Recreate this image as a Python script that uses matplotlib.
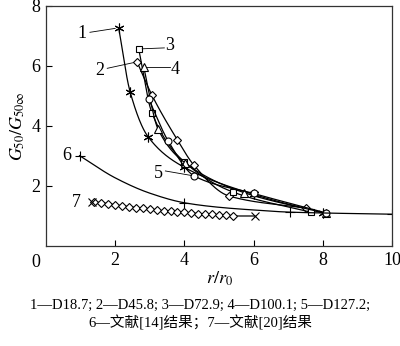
import numpy as np
import matplotlib
matplotlib.use('Agg')
import matplotlib.pyplot as plt

plt.rcParams['font.family'] = ['Liberation Serif', 'Noto Sans CJK SC']
plt.rcParams['mathtext.fontset'] = 'stix'

# measured points, r/r0 vs G50/G50inf
x1 = [2.1, 2.43, 2.95, 4.0, 6.0, 8.0]
y1 = [7.27, 5.14, 3.64, 2.62, 1.72, 1.1]
x2 = [2.63, 3.06, 3.8, 4.27, 5.28, 7.5]
y2 = [6.14, 5.03, 3.53, 2.7, 1.67, 1.26]
x3 = [2.68, 3.06, 4.0, 5.4, 7.67]
y3 = [6.56, 4.44, 2.8, 1.8, 1.12]
x4 = [2.82, 3.24, 4.03, 5.72, 8.1]
y4 = [5.98, 3.89, 2.76, 1.78, 1.09]
x5 = [2.97, 3.53, 4.29, 6.0, 8.1]
y5 = [4.89, 3.5, 2.33, 1.75, 1.1]

# ref [14] curve and its marked points
x6 = [0.97, 2.0, 3.0, 4.0, 5.0, 6.0, 7.0, 8.0, 10.0]
y6 = [3.01, 2.27, 1.76, 1.44, 1.29, 1.2, 1.13, 1.1, 1.06]
x6m = [0.97, 4.0, 7.05, 10.0]
y6m = [3.01, 1.44, 1.12, 1.06]

# ref [20]
x7 = [1.4, 1.6, 1.8, 2.0, 2.2, 2.4, 2.6, 2.8, 3.0, 3.2, 3.4, 3.6, 3.8, 4.0,
      4.2, 4.4, 4.6, 4.8, 5.0, 5.2, 5.4]
y7 = [1.47, 1.44, 1.41, 1.37, 1.34, 1.31, 1.28, 1.25, 1.22, 1.2, 1.17, 1.15,
      1.13, 1.12, 1.1, 1.08, 1.06, 1.05, 1.03, 1.02, 1.0]
x7x = [1.32, 6.03]
y7x = [1.46, 1.0]

caption1 = '1—D18.7; 2—D45.8; 3—D72.9; 4—D100.1; 5—D127.2;'
caption2 = '6—文献[14]结果；7—文献[20]结果'


def pchip_line(x, y, n=40):
    # shape-preserving cubic path through the points (drawing only)
    x = np.asarray(x, float)
    y = np.asarray(y, float)
    h = np.diff(x)
    d = np.diff(y) / h
    m = np.zeros_like(y)
    for k in range(1, len(x) - 1):
        if d[k - 1] * d[k] > 0:
            w1 = 2 * h[k] + h[k - 1]
            w2 = h[k] + 2 * h[k - 1]
            m[k] = (w1 + w2) / (w1 / d[k - 1] + w2 / d[k])
    m[0] = d[0]
    m[-1] = d[-1]
    xs, ys = [], []
    for k in range(len(h)):
        t = np.linspace(0, 1, n)
        h00 = 2 * t**3 - 3 * t**2 + 1
        h10 = t**3 - 2 * t**2 + t
        h01 = -2 * t**3 + 3 * t**2
        h11 = t**3 - t**2
        xs.append(x[k] + t * h[k])
        ys.append(h00 * y[k] + h10 * h[k] * m[k] + h01 * y[k + 1] + h11 * h[k] * m[k + 1])
    return np.concatenate(xs), np.concatenate(ys)


fig = plt.figure(figsize=(4, 3.46), dpi=100)
ax = fig.add_axes([0.115, 0.289, 0.865, 0.694])

lw = 0.9
mk = dict(color='k', mfc='white', mew=0.8, ls='none')
series = [(x1, y1, (6, 2, 0), 7), (x2, y2, 'D', 4.5), (x3, y3, 's', 5),
          (x4, y4, '^', 5.5), (x5, y5, 'o', 5)]
for xs, ys, m, ms in series:
    sx, sy = pchip_line(xs, ys)
    ax.plot(sx, sy, color='k', lw=lw)
    ax.plot(xs, ys, marker=m, ms=ms, **mk)

sx, sy = pchip_line(x6, y6)
ax.plot(sx, sy, color='k', lw=lw)
ax.plot(x6m, y6m, marker='+', ms=7, **mk)

ax.plot(x7 + [6.03], y7 + [1.0], color='k', lw=lw)
ax.plot(x7, y7, marker='D', ms=4, **mk)
ax.plot(x7x, y7x, marker='x', ms=6, **mk)

# numbered leaders
fs = 13
ax.text(1.03, 7.09, '1', fontsize=fs, ha='center', va='center')
ax.plot([1.27, 2.0], [7.12, 7.25], color='k', lw=0.6)
ax.text(1.54, 5.84, '2', fontsize=fs, ha='center', va='center')
ax.plot([1.77, 2.53], [5.92, 6.11], color='k', lw=0.6)
ax.text(3.57, 6.67, '3', fontsize=fs, ha='center', va='center')
ax.plot([2.78, 3.42], [6.57, 6.6], color='k', lw=0.6)
ax.text(3.74, 5.89, '4', fontsize=fs, ha='center', va='center')
ax.plot([2.9, 3.57], [5.98, 5.98], color='k', lw=0.6)
ax.text(3.26, 2.42, '5', fontsize=fs, ha='center', va='center')
ax.plot([3.45, 4.2], [2.5, 2.35], color='k', lw=0.6)
ax.text(0.6, 3.01, '6', fontsize=fs, ha='center', va='center')
ax.text(0.87, 1.44, '7', fontsize=fs, ha='center', va='center')

ax.set_xlim(0, 10)
ax.set_ylim(0, 8)
ax.set_xticks([2, 4, 6, 8, 10])
ax.set_yticks([2, 4, 6, 8])
ax.tick_params(direction='in', length=4, width=0.8, labelsize=fs, pad=4)
for s in ax.spines.values():
    s.set_linewidth(0.9)
    s.set_color('#333333')
ax.text(-0.17, -0.55, '0', fontsize=fs, ha='right', va='center')

ax.set_xlabel('$r/r_0$', fontsize=fs, labelpad=1)
ax.set_ylabel(r'$G_{50}/G_{50\infty}$', fontsize=fs, labelpad=3)

fig.text(0.5, 0.118, caption1, fontsize=10.5, ha='center', va='center')
fig.text(0.5, 0.066, caption2, fontsize=10.5, ha='center', va='center')

fig.savefig('out.png', dpi=100)
